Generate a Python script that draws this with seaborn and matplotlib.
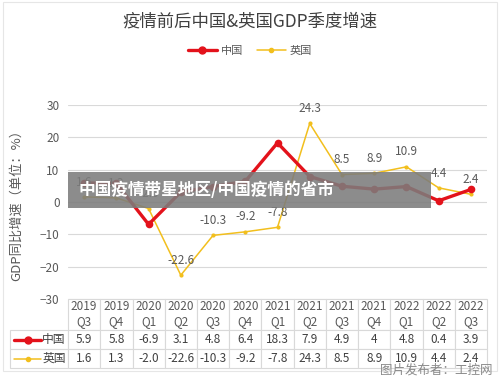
import matplotlib
matplotlib.use("Agg")
import matplotlib.pyplot as plt
from matplotlib.table import Table
from matplotlib.lines import Line2D
from matplotlib.patches import Rectangle
import pandas as pd
import seaborn as sns

quarters = ["2019\nQ3", "2019\nQ4", "2020\nQ1", "2020\nQ2", "2020\nQ3", "2020\nQ4",
            "2021\nQ1", "2021\nQ2", "2021\nQ3", "2021\nQ4", "2022\nQ1", "2022\nQ2", "2022\nQ3"]
china = [5.9, 5.8, -6.9, 3.1, 4.8, 6.4, 18.3, 7.9, 4.9, 4, 4.8, 0.4, 3.9]
uk = [1.6, 1.3, -2.0, -22.6, -10.3, -9.2, -7.8, 24.3, 8.5, 8.9, 10.9, 4.4, 2.4]
china_txt = ["5.9", "5.8", "-6.9", "3.1", "4.8", "6.4", "18.3", "7.9", "4.9", "4", "4.8", "0.4", "3.9"]
uk_txt = ["1.6", "1.3", "-2.0", "-22.6", "-10.3", "-9.2", "-7.8", "24.3", "8.5", "8.9", "10.9", "4.4", "2.4"]

sns.set_theme(style="whitegrid")
plt.rcParams["font.family"] = ["Noto Sans CJK SC", "DejaVu Sans"]

RED = "#e3121b"
YEL = "#f2bf1d"
TXT = "#595959"
GRID = "#d9d9d9"

df = pd.DataFrame({"x": range(len(quarters)), "china": china, "uk": uk})

fig = plt.figure(figsize=(5, 3.82), dpi=100)
ax = fig.add_axes([0.136, 0.217, 0.838, 0.508])

sns.lineplot(data=df, x="x", y="uk", ax=ax, color=YEL, lw=1.1,
             marker="o", markersize=3, markeredgewidth=0, label="英国")
sns.lineplot(data=df, x="x", y="china", ax=ax, color=RED, lw=2.4,
             marker="o", markersize=5.5, markeredgewidth=0, label="中国")

for i, v in enumerate(uk):
    ax.annotate(uk_txt[i], (i, v), xytext=(0, 6), textcoords="offset points",
                ha="center", va="bottom", fontsize=8.5, color=TXT)

ax.set_xlim(-0.5, len(quarters) - 0.5)
ax.set_ylim(-30, 30)
ax.set_yticks([-30, -20, -10, 0, 10, 20, 30])
ax.set_xticks([])
ax.set_xlabel("")
ax.set_ylabel("GDP同比增速（单位：%）", fontsize=9.5, color=TXT, labelpad=12)
ax.tick_params(axis="y", labelsize=8.5, labelcolor=TXT, length=0, pad=6)
ax.grid(axis="y", color=GRID, lw=0.8)
ax.grid(axis="x", visible=False)
for s in ax.spines.values():
    s.set_visible(False)
ax.get_legend().remove()

# data table under the plot
lab_w = 58 / 32.2
tab = Table(ax, bbox=[-(58 / 419), -0.356, 1 + 58 / 419, 0.356])
hdr_h, row_h = 30, 19
tab.add_cell(0, 0, lab_w, hdr_h, text="")
tab[(0, 0)].visible_edges = ""
for j, q in enumerate(quarters):
    tab.add_cell(0, j + 1, 1, hdr_h, text=q, loc="center")
rows = [("中国", china_txt), ("英国", uk_txt)]
for r, (name, vals) in enumerate(rows, start=1):
    tab.add_cell(r, 0, lab_w, row_h, text=name, loc="right")
    for j, t in enumerate(vals):
        tab.add_cell(r, j + 1, 1, row_h, text=t, loc="center")
for key, cell in tab.get_celld().items():
    cell.set_edgecolor(GRID)
    cell.set_linewidth(0.8)
    cell.PAD = 0.04
    cell.get_text().set_fontsize(8.5)
    cell.get_text().set_color(TXT if key[0] == 0 else "#404040")
tab.auto_set_font_size(False)
ax.add_table(tab)

# legend keys inside the table row labels
key_x = [0.028, 0.055, 0.082]
fig.add_artist(Line2D(key_x, [1 - 340 / 382] * 3, color=RED, lw=2.4,
                      marker="o", markersize=5, markevery=[1], transform=fig.transFigure))
fig.add_artist(Line2D(key_x, [1 - 359 / 382] * 3, color=YEL, lw=1.1,
                      marker="o", markersize=3, markevery=[1], transform=fig.transFigure))

# title and legend
fig.text(0.5, 1 - 22 / 382, "疫情前后中国&英国GDP季度增速", ha="center", va="center",
         fontsize=12.5, color="#404040")
handles = [Line2D([], [], color=RED, lw=2.4, marker="o", markersize=5),
           Line2D([], [], color=YEL, lw=1.1, marker="o", markersize=3)]
fig.legend(handles, ["中国", "英国"], loc="center", bbox_to_anchor=(0.5, 1 - 51 / 382),
           ncol=2, frameon=False, fontsize=8, handlelength=2.6, columnspacing=1.2,
           handletextpad=0.4, labelcolor=TXT)

# overlay banner
fig.add_artist(Rectangle((68 / 500, 1 - 208 / 382), (431 - 68) / 500, 36 / 382,
                         transform=fig.transFigure, color="#7c7c7c", alpha=0.88, lw=0))
fig.text(78 / 500, 1 - 190 / 382, "中国疫情带星地区/中国疫情的省市", ha="left", va="center",
         fontsize=12, fontweight="bold", color="white")

fig.text(0.985, 1 - 370 / 382, "图片发布者：工控网", ha="right", va="center",
         fontsize=9, color="#8a8a8a")

fig.add_artist(Rectangle((0.006, 0.03), 0.988, 0.965, transform=fig.transFigure,
                         fill=False, edgecolor="#e6e6e6", lw=0.8))

fig.savefig("out.png", dpi=100)
